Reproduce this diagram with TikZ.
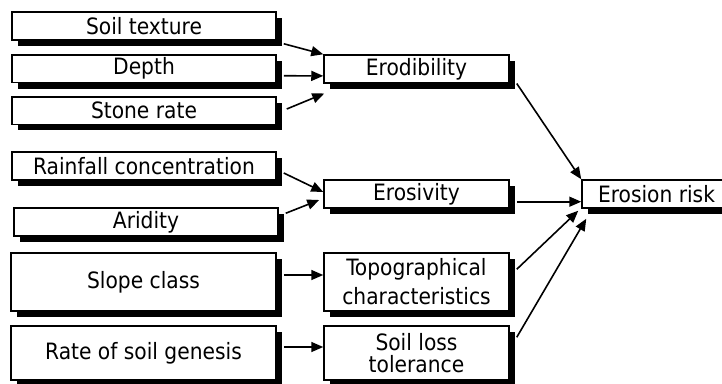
\documentclass[tikz,border=0pt]{standalone}
\usepackage{fontspec}
\setmainfont{DejaVu Sans Condensed}
\usetikzlibrary{shadows,calc,arrows.meta}

\begin{document}
\begin{tikzpicture}[x=1pt,y=-1pt,
  box/.style={draw=black,line width=1.5pt,fill=white,inner sep=0pt,
    align=center,font=\fontsize{22.5}{29}\selectfont,
    drop shadow={shadow xshift=6pt,shadow yshift=-6pt,fill=black,opacity=1}},
  arr/.style={line width=1.6pt,-{Triangle[length=12pt,width=10pt]}}]
\clip (0,0) rectangle (722,383);
\useasboundingbox (0,0) rectangle (722,383);

% input factors
\node[box,minimum width=264pt,minimum height=28pt] (soil) at (144,26) {Soil texture};
\node[box,minimum width=264pt,minimum height=27.5pt] (depth) at (144,68.75) {Depth};
\node[box,minimum width=264pt,minimum height=27.5pt] (stone) at (144,110.5) {Stone rate};
\node[box,minimum width=264pt,minimum height=28pt] (rain) at (144,166) {Rainfall concentration};
\node[box,minimum width=264pt,minimum height=28pt] (arid) at (146,222) {\raisebox{-2pt}{Aridity}};
\node[box,minimum width=265pt,minimum height=58pt] (slope) at (143.5,282) {Slope class};
\node[box,minimum width=265pt,minimum height=54pt] (genesis) at (143.5,353) {Rate of soil genesis};

% intermediate indicators
\node[box,minimum width=185pt,minimum height=27.7pt] (erod) at (416.5,68.9) {Erodibility};
\node[box,minimum width=185pt,minimum height=28pt] (erosiv) at (416.5,194) {Erosivity};
\node[box,minimum width=185pt,minimum height=58pt] (topo) at (416.5,282) {Topographical\\characteristics};
\node[box,minimum width=185pt,minimum height=54pt] (tol) at (416.5,353) {\raisebox{-6pt}{\shortstack{Soil loss\\[1pt]tolerance}}};

% final index
\node[box,minimum width=149pt,minimum height=28pt] (risk) at (656.5,194) {Erosion risk};

% connectors
\draw[arr] ($(soil.south east)+(7,3)$) -- (erod.north west);
\draw[arr] ($(depth.east)+(7,7)$) -- ($(erod.west)+(0,7)$);
\draw[arr] ($(stone.east)+(10,-1.5)$) -- ($(erod.south west)+(1,10)$);
\draw[arr] ($(rain.east)+(7,7)$) -- ($(erosiv.west)+(0,-2)$);
\draw[arr] ($(arid.north east)+(7,6)$) -- ($(erosiv.west)+(-4,6)$);
\draw[arr] ($(slope.east)+(7,-7)$) -- ($(topo.west)+(0,-7)$);
\draw[arr] ($(genesis.east)+(7,-6)$) -- ($(tol.west)+(0,-6)$);
\draw[arr] ($(erod.south east)+(7,0)$) -- (risk.north west);
\draw[arr] ($(erosiv.east)+(7,7.7)$) -- ($(risk.west)+(0,7.7)$);
\draw[arr] ($(topo.north east)+(7,17)$) -- ($(risk.south west)+(-3,2)$);
\draw[arr] ($(tol.north east)+(7,12)$) -- ($(risk.south west)+(5,10)$);
\end{tikzpicture}
\end{document}
